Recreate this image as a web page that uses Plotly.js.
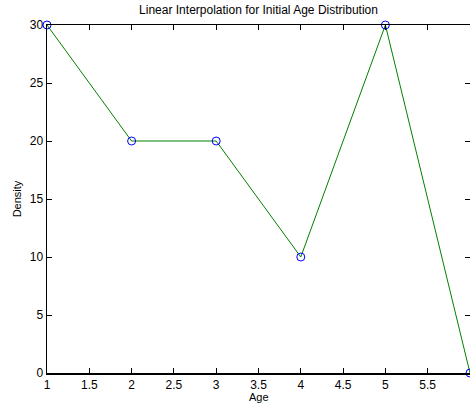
<!DOCTYPE html>
<html>
<head>
<meta charset="utf-8">
<script src="https://cdn.plot.ly/plotly-3.0.1.min.js"></script>
<style>html,body{margin:0;padding:0;background:#fff;overflow:hidden}</style>
</head>
<body>
<div id="chart" style="width:470px;height:409px"></div>
<script>
const ages = [1, 2, 3, 4, 5, 6];
const density = [30, 20, 20, 10, 30, 0];
const xTicks = [1, 1.5, 2, 2.5, 3, 3.5, 4, 4.5, 5, 5.5, 6];
const yTicks = [0, 5, 10, 15, 20, 25, 30];

const font = {family: 'Liberation Sans, Arial, sans-serif', size: 11, color: '#000'};

Plotly.newPlot('chart', [
  {x: ages, y: density, type: 'scatter', mode: 'lines', line: {color: 'rgb(0,128,0)', width: 1}, hoverinfo: 'skip', cliponaxis: false},
  {x: ages, y: density, type: 'scatter', mode: 'markers', cliponaxis: false,
   marker: {symbol: 'circle-open', size: 8, color: 'rgb(0,0,255)', line: {width: 1, color: 'rgb(0,0,255)'}}}
], {
  width: 470, height: 409,
  margin: {l: 47, r: 0, t: 25, b: 36},
  showlegend: false,
  paper_bgcolor: '#fff', plot_bgcolor: '#fff',
  font: font,
  title: {text: 'Linear Interpolation for Initial Age Distribution', font: {family: font.family, size: 12, color: '#000'}, xref: 'paper', x: 0.5, xanchor: 'center', y: 0.975, yanchor: 'middle'},
  annotations: [
    {text: 'Age', xref: 'paper', yref: 'paper', x: 0.5, y: -0.07, xanchor: 'center', yanchor: 'middle', showarrow: false,
     font: {family: font.family, size: 11, color: '#000'}}
  ],
  xaxis: {
    range: [1, 6], tickvals: xTicks, ticktext: xTicks.map(String),
    showgrid: false, zeroline: false, showline: true, linecolor: '#000', linewidth: 1.5,
    mirror: 'ticks', ticks: 'inside', ticklen: 5, tickcolor: '#000', tickwidth: 1,
    tickfont: {family: font.family, size: 12, color: '#000'}
  },
  yaxis: {
    range: [0, 30], tickvals: yTicks, ticktext: yTicks.map(String),
    showgrid: false, zeroline: false, showline: true, linecolor: '#000', linewidth: 1.5,
    mirror: 'ticks', ticks: 'inside', ticklen: 5, tickcolor: '#000', tickwidth: 1,
    tickfont: {family: font.family, size: 12, color: '#000'},
    title: {text: 'Density', font: {family: font.family, size: 11, color: '#000'}, standoff: 6}
  }
}, {staticPlot: true, displayModeBar: false});
</script>
</body>
</html>
